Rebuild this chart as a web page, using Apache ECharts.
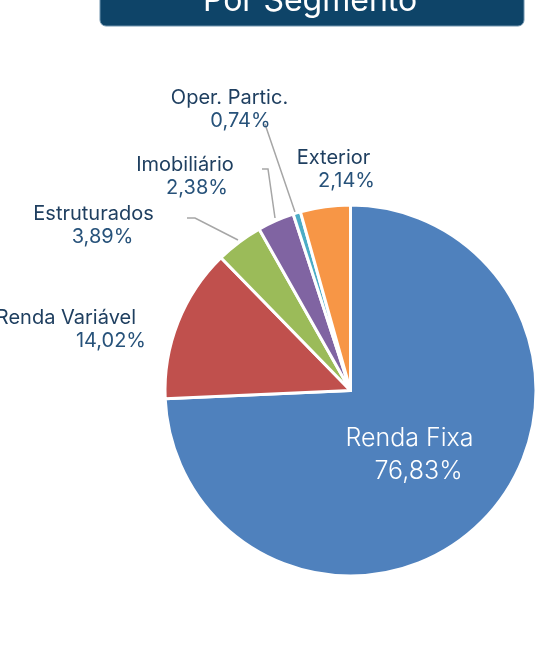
<!DOCTYPE html>
<html>
<head>
<meta charset="utf-8">
<script src="https://cdn.jsdelivr.net/npm/echarts@6/dist/echarts.min.js"></script>
<style>
  html, body { margin: 0; padding: 0; background: #ffffff; }
  #chart { width: 545px; height: 662px; }
</style>
</head>
<body>
<div id="chart"></div>
<script>
// ---- data ----
const categories = ['Renda Fixa', 'Renda Variável', 'Estruturados', 'Imobiliário', 'Oper. Partic.', 'Exterior'];
// slice shares as drawn in the picture (measured from the slice angles)
const sliceShares = [74.3, 13.4, 4.1, 3.2, 0.65, 4.35];
// percentages as printed on the labels
const shareLabels = ['76,83%', '14,02%', '3,89%', '2,38%', '0,74%', '2,14%'];
const colors = ['#4f81bd', '#c0504d', '#9bbb59', '#8064a2', '#4bacc6', '#f79646'];
const titleText = 'Por Segmento';

// ---- label layout (positions only) ----
const labelPlace = [
  { x: 414, y: 455, align: 'center', shift: 9 },
  { x: 146, y: 329, align: 'right', shift: 10 },
  { x: 98, y: 225, align: 'center', shift: 9 },
  { x: 191, y: 176, align: 'center', shift: 12 },
  { x: 235, y: 109, align: 'center', shift: 11 },
  { x: 340, y: 169, align: 'center', shift: 13 }
];
const leaderLines = [
  null,
  null,
  [[187, 218], [195, 218], [238, 240]],
  [[262, 169], [268, 169], [275, 218]],
  [[265, 124], [266, 127], [295, 212]],
  null
];

const navy = '#1f3f60';
const navyVal = '#27527a';
const fontFam = 'Inter, "DejaVu Sans", sans-serif';

const seriesData = categories.map((name, i) => {
  const p = labelPlace[i];
  let rich;
  if (i === 0) {
    rich = {
      n: { fontFamily: fontFam, fontSize: 25, fontWeight: 300, color: '#ffffff', lineHeight: 33, align: 'center', padding: [0, p.shift, 0, 0] },
      v: { fontFamily: fontFam, fontSize: 25, fontWeight: 300, color: '#ffffff', lineHeight: 33, align: 'center', padding: [0, 0, 0, p.shift] }
    };
  } else if (p.align === 'right') {
    rich = {
      n: { fontFamily: fontFam, fontSize: 20, color: navy, lineHeight: 23, align: 'right', padding: [0, p.shift, 0, 0] },
      v: { fontFamily: fontFam, fontSize: 20, color: navyVal, lineHeight: 23, align: 'right' }
    };
  } else {
    rich = {
      n: { fontFamily: fontFam, fontSize: 20, color: navy, lineHeight: 23, align: 'center', padding: [0, p.shift, 0, 0] },
      v: { fontFamily: fontFam, fontSize: 20, color: navyVal, lineHeight: 23, align: 'center', padding: [0, 0, 0, p.shift] }
    };
  }
  return {
    name: name,
    value: sliceShares[i],
    itemStyle: { color: colors[i] },
    label: {
      show: true,
      position: i === 0 ? 'inside' : 'outside',
      formatter: '{n|' + name + '}\n{v|' + shareLabels[i] + '}',
      rich: rich
    },
    labelLine: {
      show: !!leaderLines[i],
      lineStyle: { color: '#a6a6a6', width: 1.5 }
    }
  };
});

const chart = echarts.init(document.getElementById('chart'), null, { renderer: 'canvas' });
chart.setOption({
  backgroundColor: '#ffffff',
  animation: false,
  graphic: [
    {
      type: 'rect',
      shape: { x: 100, y: -14, width: 424, height: 40, r: 6 },
      style: { fill: '#0e4468', stroke: '#6f93ad', lineWidth: 1 }
    },
    {
      type: 'text',
      x: 310,
      y: 1,
      style: {
        text: titleText,
        fontFamily: fontFam,
        fontSize: 32,
        fill: '#ffffff',
        align: 'center',
        verticalAlign: 'middle'
      }
    }
  ],
  series: [
    {
      type: 'pie',
      center: [350.5, 390.5],
      radius: [0, 185.5],
      startAngle: 90,
      clockwise: true,
      avoidLabelOverlap: false,
      emphasis: { disabled: true },
      itemStyle: { borderColor: '#ffffff', borderWidth: 3 },
      data: seriesData,
      labelLayout: function (params) {
        const i = params.dataIndex;
        const p = labelPlace[i];
        const out = { x: p.x, y: p.y, align: p.align, verticalAlign: 'middle' };
        if (leaderLines[i]) out.labelLinePoints = leaderLines[i];
        return out;
      }
    }
  ]
});
</script>
</body>
</html>
